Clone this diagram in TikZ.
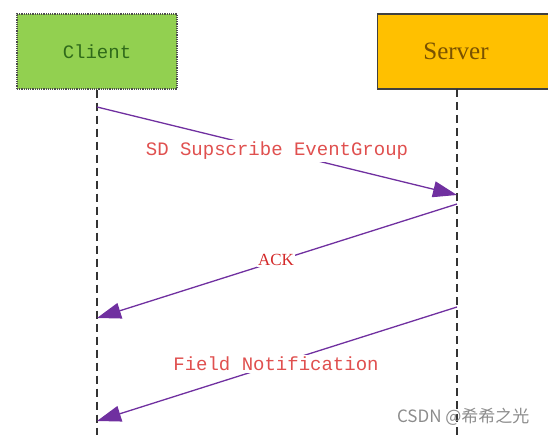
\documentclass[tikz,border=0pt]{standalone}
\usepackage{fontspec}
\setmainfont{Liberation Serif}
\setmonofont{Liberation Mono}
\newfontfamily\cjk{Noto Sans CJK SC}
\usetikzlibrary{arrows.meta}
\definecolor{clientgreen}{HTML}{92D050}
\definecolor{serveryellow}{HTML}{FFC000}
\definecolor{msgpurple}{HTML}{7030A0}
\definecolor{lblred}{HTML}{E0504F}
\definecolor{ackred}{HTML}{D42A2A}
\definecolor{clienttext}{HTML}{2F6A1A}
\definecolor{servertext}{HTML}{7A5200}
\tikzset{
  lifeline/.style={draw=black!80, line width=1.1pt, dash pattern=on 8pt off 5pt},
  msg/.style={draw=msgpurple, line width=1.3pt, -{Triangle[length=24pt,width=16pt]}},
  msglabel/.style={fill=white, inner sep=2pt, text=lblred, font=\ttfamily\fontsize{19}{22}\selectfont},
}
\begin{document}
\begin{tikzpicture}[x=1pt,y=-1pt]
\useasboundingbox (0,0) rectangle (548,435);
\begin{scope}
\clip (0,0) rectangle (548,435);
% actors
\node[draw=black!70, densely dotted, line width=1.2pt, fill=clientgreen, minimum width=160pt, minimum height=75pt, inner sep=0pt,
  text=clienttext, font=\ttfamily\fontsize{19}{22}\selectfont] (client) at (97,51.5) {Client};
\node[draw=black!75, line width=1.2pt, fill=serveryellow, minimum width=200pt, minimum height=75pt, inner sep=0pt, anchor=west] (serverbox) at (377,51.5) {};
\node[text=servertext, font=\fontsize{25}{28}\selectfont] (server) at (456,51.5) {Server};
% lifeline ends
\coordinate (cbot) at (97,440);
\coordinate (stop) at (457,89);
\coordinate (sbot) at (457,440);
\draw[lifeline] (client.south) -- (cbot);
\draw[lifeline] (stop) -- (sbot);
% message points
\coordinate (m1s) at (97,107);
\coordinate (m1e) at (457,195);
\coordinate (m2s) at (457,204);
\coordinate (m2e) at (97,318);
\coordinate (m3s) at (457,307);
\coordinate (m3e) at (97,421);
\draw[msg] (m1s) -- (m1e);
\draw[msg] (m2s) -- (m2e);
\draw[msg] (m3s) -- (m3e);
\node[msglabel] (l1) at (277,151) {SD Supscribe EventGroup};
\node[fill=white, inner sep=1pt, text=ackred, font=\fontsize{17}{19}\selectfont] (l2) at (276,260) {ACK};
\node[msglabel] (l3) at (276,364) {Field Notification};
% watermark
\node[text=black!45, font=\cjk\fontsize{17}{19}\selectfont, anchor=east] (wm) at (533,417) {CSDN @希希之光};
\end{scope}
\end{tikzpicture}
\end{document}
